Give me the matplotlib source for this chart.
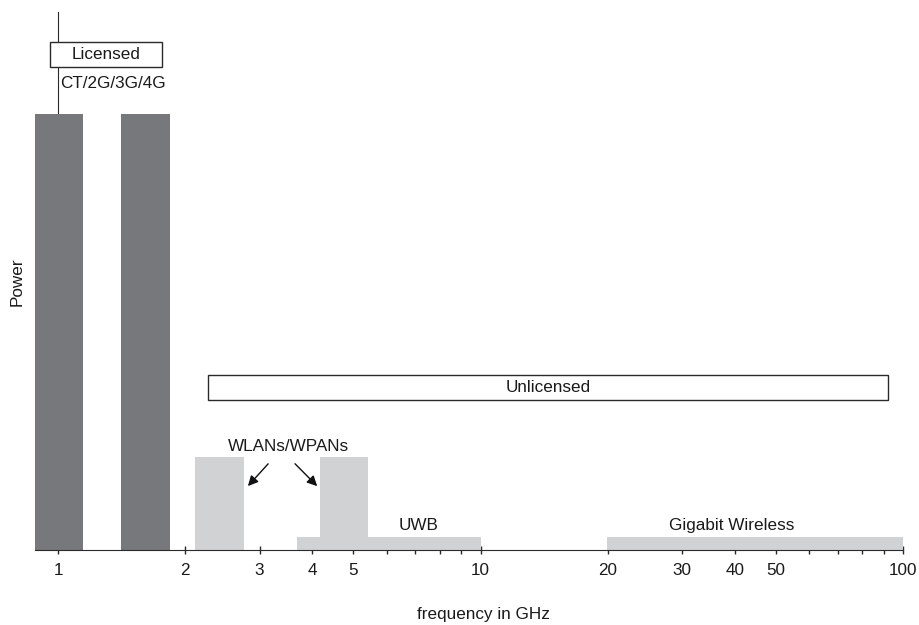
import matplotlib
matplotlib.use("Agg")
import matplotlib.pyplot as plt
from matplotlib.patches import Rectangle
from matplotlib.ticker import FixedLocator, NullFormatter

plt.rcParams['font.family'] = ['Liberation Sans', 'DejaVu Sans']

# Licensed bands (GHz) and relative power
licensed_lo = [0.88, 1.41]
licensed_hi = [1.146, 1.84]
licensed_pow = [0.81, 0.81]

# WLAN/WPAN bands
wlan_lo = [2.11, 4.16]
wlan_hi = [2.76, 5.43]
wlan_pow = [0.173, 0.173]

# UWB and Gigabit wireless bands
low_lo = [3.68, 19.9]
low_hi = [10.0, 100.0]
low_pow = [0.024, 0.024]

major_ticks = [1, 2, 3, 4, 5, 10, 20, 30, 40, 50, 100]
minor_ticks = [6, 7, 8, 9, 60, 70, 80, 90]

DARK = '#77787b'
LIGHT = '#d1d2d4'
EDGE = '#2a2a2a'
TXT = '#1a1a1a'
FS = 12.3

fig = plt.figure(figsize=(9.19, 6.25), dpi=100)
ax = fig.add_axes([35/919, 75/625, 868/919, 538/625])
ax.set_xscale('log')
ax.set_xlim(0.882, 100)
ax.set_ylim(0, 1)

ax.bar(low_lo, low_pow, width=[h - l for l, h in zip(low_lo, low_hi)],
       align='edge', color=LIGHT, zorder=3, linewidth=0)
ax.bar(wlan_lo, wlan_pow, width=[h - l for l, h in zip(wlan_lo, wlan_hi)],
       align='edge', color=LIGHT, zorder=3, linewidth=0)
ax.bar(licensed_lo, licensed_pow, width=[h - l for l, h in zip(licensed_lo, licensed_hi)],
       align='edge', color=DARK, zorder=3, linewidth=0)

for s in ['top', 'right']:
    ax.spines[s].set_visible(False)
ax.spines['left'].set_position(('data', 1))
ax.spines['left'].set_color(EDGE)
ax.spines['bottom'].set_color(EDGE)
ax.spines['left'].set_zorder(2)
ax.spines['bottom'].set_zorder(4)
ax.set_yticks([])

ax.xaxis.set_major_locator(FixedLocator(major_ticks))
ax.xaxis.set_minor_locator(FixedLocator(minor_ticks))
ax.xaxis.set_minor_formatter(NullFormatter())
ax.set_xticklabels([str(t) for t in major_ticks])
ax.tick_params(axis='x', which='both', direction='inout', length=6, width=1,
               color=EDGE, labelsize=FS, pad=6.5, labelcolor=TXT)

# Licensed box
ax.add_patch(Rectangle((0.957, 0.898), 1.763 - 0.957, 0.944 - 0.898,
                       facecolor='white', edgecolor=EDGE, linewidth=1,
                       zorder=5, clip_on=False))
ax.text((0.957 * 1.763) ** 0.5, 0.921, 'Licensed', ha='center', va='center',
        fontsize=FS, color=TXT, zorder=6)
ax.text(1.011, 0.868, 'CT/2G/3G/4G', ha='left', va='center', fontsize=FS,
        color=TXT, zorder=6)

# Unlicensed box
ax.add_patch(Rectangle((2.265, 0.279), 92.2 - 2.265, 0.325 - 0.279,
                       facecolor='white', edgecolor=EDGE, linewidth=1,
                       zorder=5, clip_on=False))
ax.text((2.265 * 92.2) ** 0.5, 0.302, 'Unlicensed', ha='center', va='center',
        fontsize=FS, color=TXT, zorder=6)

ax.text(3.52, 0.193, 'WLANs/WPANs', ha='center', va='center', fontsize=FS,
        color=TXT)
arrow_kw = dict(arrowstyle='-|>,head_length=0.6,head_width=0.3', color='#111111', lw=1)
ax.annotate('', xy=(2.786, 0.115), xytext=(3.175, 0.164), arrowprops=arrow_kw, zorder=6)
ax.annotate('', xy=(4.15, 0.115), xytext=(3.60, 0.164), arrowprops=arrow_kw, zorder=6)

ax.text(7.15, 0.046, 'UWB', ha='center', va='center', fontsize=FS, color=TXT)
ax.text(39.4, 0.046, 'Gigabit Wireless', ha='center', va='center', fontsize=FS,
        color=TXT)

fig.text(17/919, 1 - 282/625, 'Power', rotation=90, ha='center', va='center',
         fontsize=FS, color=TXT)
fig.text(483/919, 1 - 615/625, 'frequency in GHz', ha='center', va='center',
         fontsize=FS, color=TXT)

fig.savefig('out.png', dpi=100, facecolor='white')
